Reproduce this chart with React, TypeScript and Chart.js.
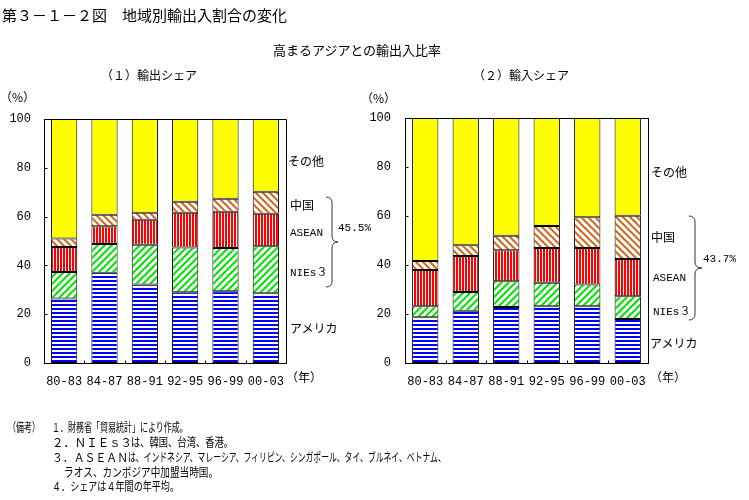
import React, { useEffect, useLayoutEffect, useRef } from 'react';
import { Chart, registerables } from 'chart.js';
Chart.register(...registerables);

// ---------- data ----------
const categories = ['80-83', '84-87', '88-91', '92-95', '96-99', '00-03'];
const yTickValues = [0, 20, 40, 60, 80, 100];
const seriesNames = ['アメリカ', 'NIEs３', 'ASEAN', '中国', 'その他'];

// (1) export share, % (segment values)
const exportAmerica = [26.4, 37.0, 32.2, 29.0, 29.4, 28.6];
const exportNIEs = [10.9, 11.8, 16.3, 18.3, 17.7, 19.2];
const exportASEAN = [10.2, 7.2, 10.2, 14.3, 14.9, 13.4];
const exportChina = [3.5, 4.8, 2.9, 4.5, 5.3, 9.0];
const exportOther = [49.0, 39.2, 38.4, 33.9, 32.7, 29.8];

// (2) import share, % (segment values)
const importAmerica = [18.7, 21.3, 22.9, 23.2, 23.2, 18.0];
const importNIEs = [4.5, 7.7, 10.5, 9.6, 8.8, 9.2];
const importASEAN = [14.8, 14.7, 12.6, 14.1, 14.9, 15.3];
const importChina = [3.6, 4.4, 5.9, 9.0, 12.6, 17.6];
const importOther = [58.4, 51.9, 48.1, 44.1, 40.5, 39.9];

const exportAsiaTotal = '45.5%';
const importAsiaTotal = '43.7%';

// ---------- patterns ----------
function tile(w: number, h: number, draw: (c: CanvasRenderingContext2D) => void) {
  const cv = document.createElement('canvas');
  cv.width = w;
  cv.height = h;
  const c = cv.getContext('2d')!;
  c.fillStyle = '#ffffff';
  c.fillRect(0, 0, w, h);
  draw(c);
  return cv;
}

function makePatterns(ctx: CanvasRenderingContext2D) {
  const blue = tile(4, 4, (c) => {
    c.fillStyle = '#0000ff';
    c.fillRect(0, 0, 4, 2);
  });
  const red = tile(3, 3, (c) => {
    c.fillStyle = '#ff0000';
    c.fillRect(0, 0, 2, 3);
  });
  const green = tile(7, 7, (c) => {
    c.strokeStyle = '#00e600';
    c.lineWidth = 2;
    c.beginPath();
    c.moveTo(-1, 8); c.lineTo(8, -1);
    c.moveTo(-1, 1); c.lineTo(1, -1);
    c.moveTo(6, 8); c.lineTo(8, 6);
    c.stroke();
  });
  const orange = tile(7, 7, (c) => {
    c.strokeStyle = '#d2691e';
    c.lineWidth = 2;
    c.beginPath();
    c.moveTo(-1, -1); c.lineTo(8, 8);
    c.moveTo(-1, 6); c.lineTo(1, 8);
    c.moveTo(6, -1); c.lineTo(8, 1);
    c.stroke();
  });
  return [
    ctx.createPattern(blue, 'repeat')!,
    ctx.createPattern(green, 'repeat')!,
    ctx.createPattern(red, 'repeat')!,
    ctx.createPattern(orange, 'repeat')!,
    '#ffff00',
  ];
}

// ---------- frame + inward ticks ----------
const framePlugin = {
  id: 'frame',
  afterDraw(chart: any) {
    const { ctx, chartArea: a, scales } = chart;
    ctx.save();
    ctx.strokeStyle = '#000';
    ctx.lineWidth = 1;
    const l = Math.round(a.left) + 0.5;
    const t = Math.round(a.top) + 0.5;
    const r = Math.round(a.right) + 0.5;
    const b = Math.round(a.bottom) + 0.5;
    ctx.strokeRect(l, t, r - l, b - t);
    ctx.beginPath();
    yTickValues.forEach((v) => {
      const y = Math.round(scales.y.getPixelForValue(v)) + 0.5;
      ctx.moveTo(l, y);
      ctx.lineTo(l + 3, y);
    });
    for (let i = 1; i < categories.length; i++) {
      const x = Math.round((scales.x.getPixelForValue(i - 1) + scales.x.getPixelForValue(i)) / 2) + 0.5;
      ctx.moveTo(x, b);
      ctx.lineTo(x, b - 3);
    }
    ctx.stroke();
    ctx.restore();
  },
};

const tickFont = { family: '"Liberation Mono", "DejaVu Sans Mono", monospace', size: 12 };

function buildConfig(
  ctx: CanvasRenderingContext2D,
  series: number[][],
  padding: { left: number; right: number; top: number; bottom: number },
  yPad: number
): any {
  const fills = makePatterns(ctx);
  return {
    type: 'bar',
    data: {
      labels: categories,
      datasets: series.map((d, i) => ({
        label: seriesNames[i],
        data: d,
        backgroundColor: fills[i],
        borderColor: '#000000',
        borderWidth: 1,
        borderSkipped: false,
        categoryPercentage: 1,
        barPercentage: 0.65,
      })),
    },
    options: {
      responsive: false,
      animation: false,
      devicePixelRatio: 1,
      layout: { padding },
      plugins: { legend: { display: false }, tooltip: { enabled: false }, title: { display: false } },
      scales: {
        x: {
          stacked: true,
          grid: { display: false, drawTicks: false },
          border: { display: false },
          ticks: { font: tickFont, color: '#000', padding: 12, maxRotation: 0, autoSkip: false },
          afterFit: (s: any) => { s.height = 30; },
        },
        y: {
          stacked: true,
          min: 0,
          max: 100,
          grid: { display: false, drawTicks: false },
          border: { display: false },
          ticks: { stepSize: 20, font: tickFont, color: '#000', padding: yPad },
          afterFit: (s: any) => { s.width = 44; },
        },
      },
    },
    plugins: [framePlugin],
  };
}

function BarChart(props: { series: number[][]; padding: any; yPad: number }) {
  const ref = useRef<HTMLCanvasElement>(null);
  useEffect(() => {
    const cv = ref.current!;
    const ctx = cv.getContext('2d')!;
    const chart = new Chart(ctx, buildConfig(ctx, props.series, props.padding, props.yPad));
    return () => chart.destroy();
  }, []);
  return (
    <canvas
      ref={ref}
      width={749}
      height={500}
      style={{ position: 'absolute', left: 0, top: 0, width: 749, height: 500, pointerEvents: 'none' }}
    />
  );
}

// ---------- text helpers ----------
const CJK = '"Noto Sans CJK JP", "Noto Sans", sans-serif';
const MONO = '"Liberation Mono", "Noto Sans CJK JP", monospace';

function Label(props: { x: number; cy: number; text: string; size?: number; family?: string }) {
  const size = props.size ?? 12;
  return (
    <span
      style={{
        position: 'absolute',
        left: props.x,
        top: props.cy - size / 2,
        fontSize: size,
        lineHeight: `${size}px`,
        whiteSpace: 'nowrap',
        fontFamily: props.family ?? CJK,
        color: '#000',
      }}
    >
      {props.text}
    </span>
  );
}

function Fit(props: { x: number; cy: number; w: number; text: string; size?: number; family?: string }) {
  const ref = useRef<HTMLSpanElement>(null);
  const size = props.size ?? 12;
  useLayoutEffect(() => {
    const el = ref.current;
    if (!el) return;
    el.style.transform = 'none';
    const nat = el.offsetWidth;
    if (nat > 0) el.style.transform = `scaleX(${props.w / nat})`;
  }, [props.w, props.text]);
  return (
    <span
      ref={ref}
      style={{
        position: 'absolute',
        left: props.x,
        top: props.cy - size / 2,
        fontSize: size,
        lineHeight: `${size}px`,
        whiteSpace: 'nowrap',
        display: 'inline-block',
        transformOrigin: '0 50%',
        fontFamily: props.family ?? CJK,
        color: '#000',
      }}
    >
      {props.text}
    </span>
  );
}

function brace(x0: number, x1: number, x2: number, y0: number, ym: number, y1: number) {
  const r = 6;
  return `M ${x0} ${y0} Q ${x1} ${y0} ${x1} ${y0 + r} L ${x1} ${ym - r} Q ${x1} ${ym} ${x2} ${ym} Q ${x1} ${ym} ${x1} ${ym + r} L ${x1} ${y1 - r} Q ${x1} ${y1} ${x0} ${y1}`;
}

export default function App() {
  return (
    <div
      style={{
        position: 'absolute',
        left: 0,
        top: 0,
        width: 749,
        height: 500,
        background: '#fff',
        overflow: 'hidden',
        fontFamily: CJK,
      }}
    >
      <BarChart
        series={[exportAmerica, exportNIEs, exportASEAN, exportChina, exportOther]}
        padding={{ left: 0, right: 463, top: 119, bottom: 107 }}
        yPad={13}
      />
      <BarChart
        series={[importAmerica, importNIEs, importASEAN, importChina, importOther]}
        padding={{ left: 361, right: 101, top: 118, bottom: 107 }}
        yPad={14}
      />

      <svg width={749} height={500} style={{ position: 'absolute', left: 0, top: 0, pointerEvents: 'none' }}>
        <path d={brace(326, 332, 338, 197, 242, 287)} fill="none" stroke="#333" strokeWidth={1} />
        <path d={brace(689, 695, 702, 216, 268, 320)} fill="none" stroke="#333" strokeWidth={1} />
      </svg>

      <Label x={2} cy={14} size={15} text="第３－１－２図　地域別輸出入割合の変化" />
      <Label x={273} cy={49} size={13} text="高まるアジアとの輸出入比率" />
      <Label x={101} cy={75} text="（１）輸出シェア" />
      <Label x={473} cy={75} text="（２）輸入シェア" />
      <Label x={0} cy={97} text="（%）" />
      <Label x={361} cy={98} text="（%）" />

      <Label x={288} cy={161} text="その他" />
      <Label x={290} cy={205} text="中国" />
      <Label x={290} cy={233} size={11} family={MONO} text="ASEAN" />
      <Label x={290} cy={273} size={11} family={MONO} text="NIEs３" />
      <Label x={290} cy={328} text="アメリカ" />
      <Label x={286} cy={377} text="（年）" />
      <Label x={338} cy={228} size={11} family={MONO} text={exportAsiaTotal} />

      <Label x={651} cy={172} text="その他" />
      <Label x={651} cy={237} text="中国" />
      <Label x={653} cy={278} size={11} family={MONO} text="ASEAN" />
      <Label x={653} cy={312} size={11} family={MONO} text="NIEs３" />
      <Label x={650} cy={343} text="アメリカ" />
      <Label x={650} cy={377} text="（年）" />
      <Label x={703} cy={259} size={11} family={MONO} text={importAsiaTotal} />

      <Fit x={8} cy={427} w={32} text="（備考）" />
      <Fit x={52} cy={427} w={136} text="１．財務省「貿易統計」により作成。" />
      <Fit x={52} cy={442} w={80} text="２．ＮＩＥｓ３" />
      <Fit x={131} cy={442} w={102} text="は、韓国、台湾、香港。" />
      <Fit x={52} cy={457} w={76} text="３．ＡＳＥＡＮ" />
      <Fit x={128} cy={457} w={318} text="は、インドネシア、マレーシア、フィリピン、シンガポール、タイ、ブルネイ、ベトナム、" />
      <Fit x={64} cy={472} w={154} text="ラオス、カンボジア中加盟当時国。" />
      <Fit x={52} cy={486} w={127} text="４．シェアは４年間の年平均。" />
    </div>
  );
}
